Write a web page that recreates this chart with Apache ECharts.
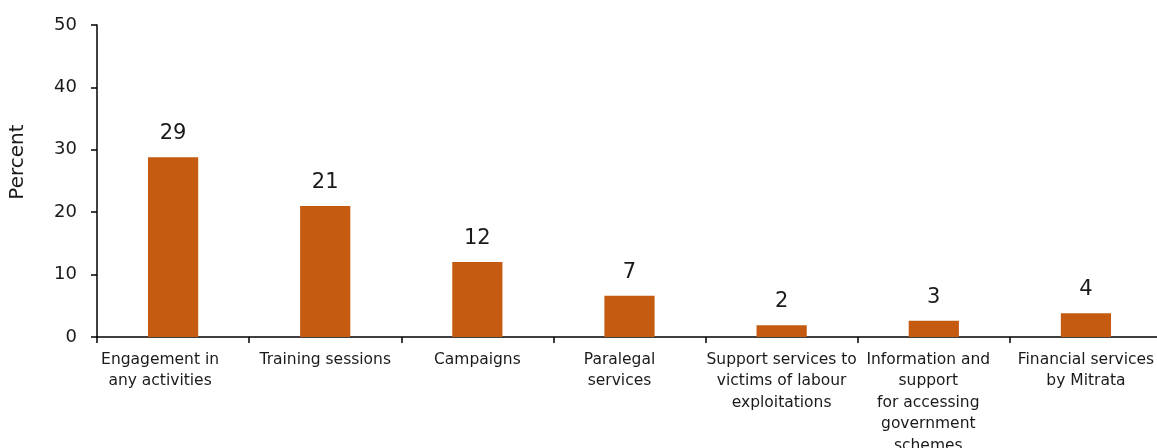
<!DOCTYPE html>
<html>
<head>
<meta charset="utf-8">
<script src="https://cdn.jsdelivr.net/npm/echarts@6/dist/echarts.min.js"></script>
<style>
  html, body { margin: 0; padding: 0; background: #ffffff; }
  #chart { width: 1157px; height: 448px; }
</style>
</head>
<body>
<div id="chart"></div>
<script>
// Share of respondents reporting each kind of support (percent)
const categories = [
  'Engagement in\nany activities',
  'Training sessions',
  'Campaigns',
  'Paralegal\nservices',
  'Support services to\nvictims of labour\nexploitations',
  'Information and\nsupport\nfor accessing\ngovernment\nschemes',
  'Financial services\nby Mitrata'
];
const percentValues = [28.8, 21.0, 12.0, 6.6, 1.9, 2.6, 3.8];
const yTicks = [0, 10, 20, 30, 40, 50];

const FONT = '"DejaVu Sans", sans-serif';
const INK = '#1a1a1a';

// Category label text blocks sit a little left of centre for some of the
// wrapped labels; a right padding (in px) nudges those blocks.
const labelShift = [26, 0, 0, 20, 0, 11, 0];

const labelBase = { fontFamily: FONT, fontSize: 15.5, lineHeight: 21.5, color: INK };
const richStyles = {};
labelShift.forEach((s, i) => {
  richStyles['c' + i] = Object.assign({ padding: [0, s, 0, 0] }, labelBase);
});

const chart = echarts.init(document.getElementById('chart'), null, { renderer: 'canvas' });

chart.setOption({
  animation: false,
  backgroundColor: '#ffffff',
  grid: {
    left: 97, top: 25, bottom: 111, width: 1065,
    containLabel: false,
    outerBoundsMode: 'none'
  },
  xAxis: {
    type: 'category',
    data: categories,
    axisLine: { show: true, lineStyle: { color: '#000000', width: 1.5 } },
    axisTick: { show: true, alignWithLabel: false, length: 6, lineStyle: { color: '#000000', width: 1.5 } },
    axisLabel: Object.assign({
      interval: 0,
      margin: 12,
      align: 'center',
      formatter: (value, index) => value.split('\n').map(line => '{c' + index + '|' + line + '}').join('\n'),
      rich: richStyles
    }, labelBase)
  },
  yAxis: {
    type: 'value',
    min: yTicks[0],
    max: yTicks[yTicks.length - 1],
    interval: yTicks[1] - yTicks[0],
    splitLine: { show: false },
    axisLine: { show: true, lineStyle: { color: '#000000', width: 1.5 } },
    axisTick: { show: true, length: 6, lineStyle: { color: '#000000', width: 1.5 } },
    axisLabel: {
      margin: 20,
      fontFamily: FONT,
      fontSize: 18,
      color: INK
    }
  },
  graphic: [{
    type: 'text',
    x: 18,
    y: 162,
    rotation: Math.PI / 2,
    style: {
      text: 'Percent',
      fontFamily: FONT,
      fontSize: 20,
      fill: INK,
      align: 'center',
      verticalAlign: 'middle'
    }
  }],
  series: [{
    type: 'bar',
    data: percentValues,
    barWidth: '33%',
    itemStyle: { color: '#C55A11' },
    label: {
      show: true,
      position: 'top',
      distance: 13,
      fontFamily: FONT,
      fontSize: 21,
      color: INK,
      formatter: p => Math.round(p.value)
    }
  }]
});
</script>
</body>
</html>
